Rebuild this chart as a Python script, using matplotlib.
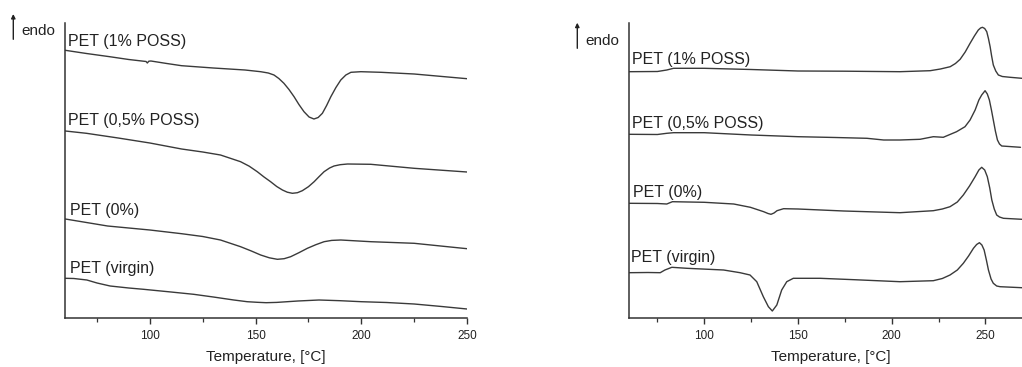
import matplotlib
matplotlib.use("Agg")
import matplotlib.pyplot as plt
from matplotlib.ticker import MultipleLocator

plt.rcParams["font.family"] = ["Liberation Sans", "DejaVu Sans"]

LINE = "#3a3a3a"
INK = "#222222"

# ---- left panel, y in arbitrary offset units ----
l_poss1_t = [60, 70, 81, 90, 98.2, 98.8, 99.5, 100.5, 108, 115, 130, 145, 152.4,
             156, 158.7, 161, 163.4, 165.8, 168.2, 170.5, 172.9, 175.3, 177.6,
             179.6, 181.6, 183.6, 185.6, 188, 190.3, 192.7, 195.1, 199.8, 209.3,
             225, 250]
l_poss1_y = [267.7, 264.5, 261.3, 258.5, 256.5, 255.0, 256.8, 257.0, 254.5, 252.3,
             250.0, 248.0, 246.3, 245.0, 243.0, 239.5, 234.7, 228.5, 221.3, 213.5,
             206.3, 201.0, 199.0, 200.5, 204.7, 212.5, 221.3, 230.5, 238.0, 243.0,
             245.7, 246.3, 245.7, 244.0, 239.3]

l_poss05_t = [60, 70, 85, 100, 115, 125, 133.4, 142.9, 147, 150.8, 154, 157.1, 160,
              162.7, 165, 167.4, 169.8, 172.1, 175, 177.7, 180, 182.4, 185,
              187.1, 190, 193.5, 204.5, 225, 250]
l_poss05_y = [187.0, 184.7, 180.0, 175.0, 169.0, 166.0, 163.0, 156.3, 151.8, 146.3,
              141.0, 136.3, 131.5, 128.0, 125.8, 124.7, 125.3, 127.3, 131.3, 136.3,
              141.3, 146.3, 150.0, 152.0, 153.3, 154.0, 153.7, 149.7, 146.0]

l_zero_t = [60, 70, 80, 100, 115, 125, 133.4, 142.9, 148, 152.4, 156.5, 160.3,
            163.5, 166.6, 170.5, 174.5, 178.5, 182.4, 186, 190.3, 204.5, 225, 250]
l_zero_y = [99.0, 95.5, 92.0, 88.0, 84.3, 81.5, 78.0, 71.3, 67.0, 63.0, 60.2, 58.7,
            59.3, 61.3, 65.3, 69.7, 73.3, 76.3, 77.6, 78.0, 76.3, 74.7, 69.3]

l_virgin_t = [60, 64, 70.2, 75, 81.2, 90, 97, 110, 120.7, 130, 139.7, 146, 150.8,
              155, 160, 170, 180, 190, 200, 212, 225, 238, 250]
l_virgin_y = [39.7, 39.5, 38.0, 35.0, 32.0, 30.0, 28.7, 26.0, 23.7, 21.0, 18.0,
              16.3, 15.7, 15.3, 15.6, 17.0, 18.0, 17.3, 16.3, 15.5, 14.0, 11.5, 9.0]

# ---- right panel, y in arbitrary offset units ----
r_poss1_t = [60, 75, 80, 83.6, 100, 125, 150, 175, 204.4, 220.5, 226, 231.2, 234,
             236.5, 239.2, 241.8, 244.1, 246.2, 247.4, 248.4, 249.6, 250.7, 251.6,
             252.5, 253.3, 254.2, 255.5, 256.9, 259, 263.2, 269.4, 272]
r_poss1_y = [246.3, 246.5, 248.0, 249.7, 249.7, 248.5, 247.0, 246.8, 246.3, 247.3,
             249.0, 251.3, 254.5, 258.7, 266.0, 274.7, 282.0, 288.0, 290.0, 290.7,
             289.5, 286.3, 279.5, 271.3, 262.0, 253.0, 247.0, 243.0, 241.5, 240.7,
             239.7, 239.6]

r_poss05_t = [60, 75, 80, 83.6, 100, 125, 150, 170, 186.8, 195.7, 204.4, 215.1,
              220, 222.2, 225, 227.5, 234.6, 239.1, 241.8, 244.5, 246.5, 248.0,
              249.8, 251.0, 252.1, 253.2, 254.2, 255.3, 256.4, 257.5, 258.7, 268.7]
r_poss05_y = [183.7, 183.5, 184.7, 185.3, 185.3, 183.0, 181.3, 180.5, 179.7, 178.0,
              178.0, 178.7, 180.5, 181.3, 181.0, 180.7, 186.3, 191.3, 198.0, 208.0,
              218.0, 223.0, 227.3, 224.0, 218.0, 208.0, 198.0, 187.0, 178.0, 174.0,
              172.0, 170.7]

r_zero_t = [60, 75, 80, 83, 100, 115.7, 124.6, 131.7, 134, 135.6, 137.2, 138.8,
            142.3, 150, 174.4, 204.4, 222.2, 227, 231.1, 235, 238.2, 241.5, 244.5,
            246.5, 248.0, 249.6, 251.0, 252.3, 253.4, 254.7, 256.0, 257.5, 259.6,
            269.4, 272]
r_zero_y = [114.7, 114.5, 114.0, 116.3, 115.7, 114.0, 110.7, 106.3, 104.5, 103.7,
            105.0, 107.3, 109.3, 109.0, 107.0, 105.3, 107.3, 109.0, 111.3, 116.0,
            123.0, 132.0, 141.3, 148.0, 150.7, 148.0, 141.3, 130.0, 118.0, 109.0,
            103.0, 101.0, 99.7, 98.7, 98.6]

r_virgin_t = [60, 70, 76.5, 79, 82.7, 90.7, 110.3, 119.1, 124.4, 128.0, 131.5,
              134.2, 136.3, 138.7, 141.3, 144.0, 147.5, 161.8, 180, 204.4, 222.2,
              227, 231.1, 235, 238.2, 241, 243.6, 245.3, 246.8, 248.1, 249.3, 250.5,
              251.6, 253.0, 254.2, 256.0, 257.8, 269.4, 272]
r_virgin_y = [45.3, 45.5, 45.3, 48.0, 50.7, 49.7, 48.0, 45.3, 43.0, 36.3, 21.3,
              11.3, 7.0, 13.0, 28.0, 36.3, 39.7, 39.7, 38.3, 36.3, 37.3, 39.5, 43.0,
              48.0, 54.7, 62.0, 69.7, 73.5, 75.3, 73.0, 68.0, 58.0, 48.0, 39.0, 34.7,
              32.0, 31.3, 30.3, 30.2]

labels = ["PET (1% POSS)", "PET (0,5% POSS)", "PET (0%)", "PET (virgin)"]
left_label_pos = [(61.4, 276.3), (61.1, 198.0), (62.2, 108.0), (62.2, 50.0)]
right_label_pos = [(61.3, 258.7), (61.3, 194.7), (61.8, 125.3), (60.9, 60.7)]

left_series = [(l_poss1_t, l_poss1_y), (l_poss05_t, l_poss05_y),
               (l_zero_t, l_zero_y), (l_virgin_t, l_virgin_y)]
right_series = [(r_poss1_t, r_poss1_y), (r_poss05_t, r_poss05_y),
                (r_zero_t, r_zero_y), (r_virgin_t, r_virgin_y)]

W, H = 1022, 367
fig = plt.figure(figsize=(W / 100, H / 100), dpi=100)
fig.patch.set_facecolor("white")

ax_l = fig.add_axes([65.3 / W, (H - 318) / H, (467 - 65.3) / W, (318 - 22.7) / H])
ax_r = fig.add_axes([629.3 / W, (H - 318) / H, (1032.3 - 629.3) / W, (318 - 22.7) / H])


def style_axis(ax, xmax):
    ax.set_xlim(60, xmax)
    ax.set_ylim(0, 295.3)
    ax.set_yticks([])
    for side in ("top", "right"):
        ax.spines[side].set_visible(False)
    for side in ("left", "bottom"):
        ax.spines[side].set_color("#333333")
        ax.spines[side].set_linewidth(1.1)
    ax.xaxis.set_major_locator(MultipleLocator(50))
    ax.xaxis.set_minor_locator(MultipleLocator(25))
    ax.tick_params(axis="x", which="major", length=4.5, width=1.0, color="#333333",
                   labelsize=8.5, labelcolor=INK, pad=4)
    ax.tick_params(axis="x", which="minor", length=3, width=0.9, color="#333333")
    ax.set_xlabel("Temperature, [°C]", fontsize=11, color=INK, labelpad=6)


for ax, series, pos, xmax in ((ax_l, left_series, left_label_pos, 250),
                              (ax_r, right_series, right_label_pos, 275)):
    style_axis(ax, xmax)
    for (t, y), lab, (lx, ly) in zip(series, labels, pos):
        ax.plot(t, y, color=LINE, linewidth=1.0, solid_joinstyle="round",
                solid_capstyle="round")
        ax.text(lx, ly, lab, fontsize=11.5, color=INK, ha="left", va="center")

ax_l.set_xticks([100, 150, 200, 250])

# "endo" arrows
for x, y0, y1, tx, ty in ((13.3, 39.3, 14.0, 21.7, 31.0),
                          (577.3, 48.3, 22.7, 585.0, 40.7)):
    fig.add_artist(plt.Annotation(
        "", xy=(x / W, 1 - y1 / H), xytext=(x / W, 1 - y0 / H),
        xycoords="figure fraction", textcoords="figure fraction",
        arrowprops=dict(arrowstyle="-|>", color="#222222", lw=1.0,
                        mutation_scale=6, shrinkA=0, shrinkB=0)))
    fig.text(tx / W, 1 - ty / H, "endo", fontsize=11, color=INK,
             ha="left", va="center")

fig.savefig("out.png", dpi=100)
